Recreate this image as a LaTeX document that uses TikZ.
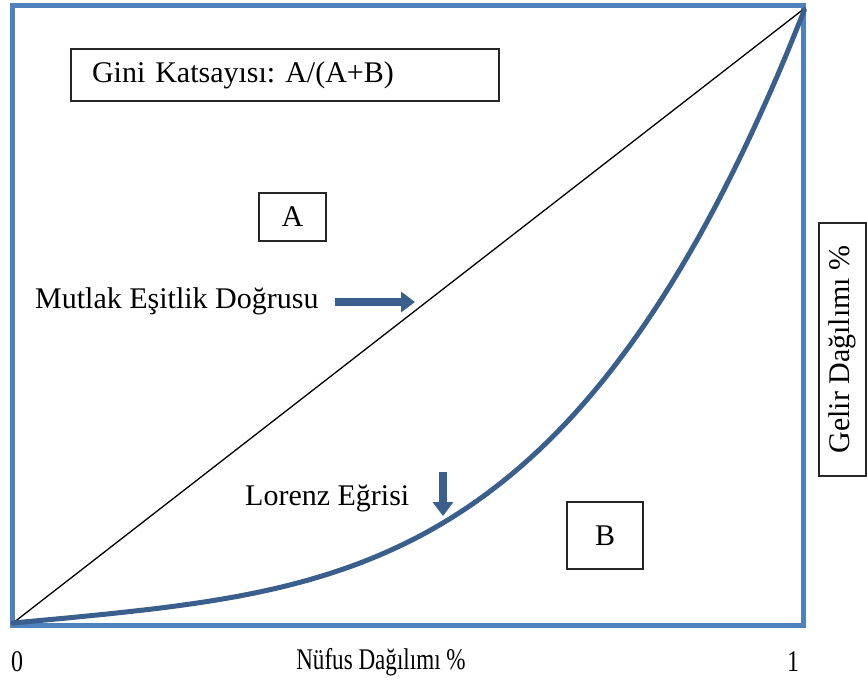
\documentclass[tikz,border=0pt]{standalone}
\usepackage{fontspec}
\setmainfont{Liberation Serif}
\usetikzlibrary{arrows.meta}
\definecolor{colFRAME}{RGB}{79,129,189}
\definecolor{colCURVE}{RGB}{58,95,141}
\frenchspacing

\begin{document}
\begin{tikzpicture}[x=1pt, y=-1pt,
    every node/.style={font=\fontsize{30}{34}\selectfont, inner sep=0pt},
    textbox/.style={draw=black!85, line width=1.2pt},
    blockarrow/.style={colCURVE, line width=8pt, -{Triangle[width=20pt,length=14pt]}}]
  \useasboundingbox (0,0) rectangle (867,681);
  % --- frame and equality line ---
  \draw[colFRAME, line width=5pt] (12.5,5.5) rectangle (803,625);
  \coordinate (orig) at (13,623);
  \coordinate (peak) at (805,8);
  \draw[line width=1.3pt] (orig) -- (peak);
  % --- Lorenz curve ---
  \draw[colCURVE, line width=5pt, line cap=round] (orig)
    -- plot[domain=0.005:1, samples=90] ({13+792*\x},{623-615*(0.12*\x+0.88*\x^3.6)});
  % --- boxes ---
  \node[textbox, minimum height=52pt, inner xsep=21pt, text width=386pt, align=left]
    (gini) at (285,75) {Gini Katsayısı: A/(A+B)};
  \node[textbox, minimum width=67pt, minimum height=48pt] (areaA) at (292.5,217) {A};
  \node[textbox, minimum width=76pt, minimum height=67pt] (areaB) at (605,535.5) {B};
  \node[textbox, rotate=90, minimum width=253pt, minimum height=47pt] (gelir) at (842.5,349.5)
    {Gelir Dağılımı \%};
  % --- labels and arrows ---
  \node[anchor=west] (mutlak) at (35,301) {Mutlak Eşitlik Doğrusu};
  \coordinate (eqtail) at (335,302);
  \coordinate (eqtip) at (415,302);
  \draw[blockarrow] (eqtail) -- (eqtip);
  \node[anchor=west] (lorenz) at (245,498) {Lorenz Eğrisi};
  \coordinate (lztail) at (443,472);
  \coordinate (lztip) at (443,516);
  \draw[blockarrow] (lztail) -- (lztip);
  \node (zero) at (17,662) {\scalebox{0.8}[1]{0}};
  \node (nufus) at (381,662) {\scalebox{0.77}[1]{Nüfus Dağılımı \%}};
  \node (one) at (793,662) {\scalebox{0.8}[1]{1}};
\end{tikzpicture}
\end{document}
